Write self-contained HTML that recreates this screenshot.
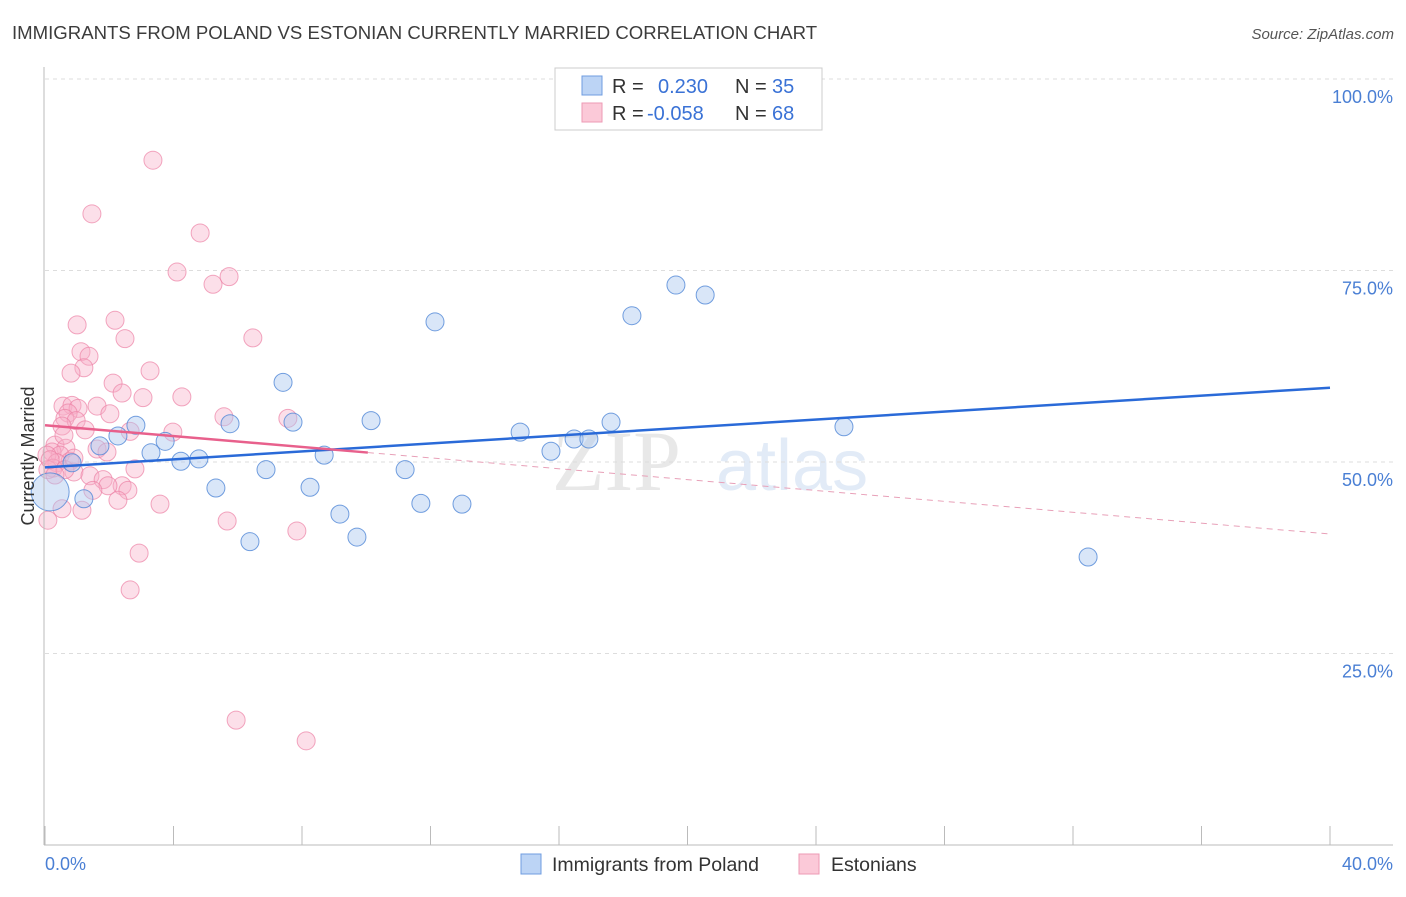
<!DOCTYPE html>
<html><head><meta charset="utf-8"><style>
body{margin:0;background:#fff;font-family:"Liberation Sans",sans-serif}
</style></head><body>
<svg id="chart" width="1406" height="892" xmlns="http://www.w3.org/2000/svg" font-family="Liberation Sans, sans-serif">
<text x="12" y="39" font-size="18.6" fill="#3c3c3c">IMMIGRANTS FROM POLAND VS ESTONIAN CURRENTLY MARRIED CORRELATION CHART</text>
<text x="1394" y="39" font-size="15" fill="#555" text-anchor="end" font-style="italic">Source: ZipAtlas.com</text>
<text x="552" y="490" font-size="86" fill="#e8e8e8" font-family="Liberation Serif, serif">ZIP</text>
<text x="716" y="490" font-size="72" fill="#e2ebf7">atlas</text>
<g id="grid"></g><g id="marks"></g>
<line x1="44" y1="67" x2="44" y2="845" stroke="#bbb"/>
<line x1="44" y1="845" x2="1393" y2="845" stroke="#bbb"/>
<text transform="translate(34,456) rotate(-90)" text-anchor="middle" font-size="18" fill="#333">Currently Married</text>
<text x="45" y="870" font-size="18" fill="#4a7fd4">0.0%</text>
<text x="1393" y="870" font-size="18" fill="#4a7fd4" text-anchor="end">40.0%</text>
<g>
<rect x="555" y="68" width="267" height="62" fill="#fff" stroke="#ccc"/>
<rect x="582" y="76" width="20" height="19" fill="#bcd4f5" stroke="#6f9ce0"/>
<rect x="582" y="103" width="20" height="19" fill="#fbc9d8" stroke="#ee9ab5"/>
<text x="612" y="93" font-size="20" fill="#333">R =</text><text x="658" y="93" font-size="20" fill="#3a72d6">0.230</text>
<text x="735" y="93" font-size="20" fill="#333">N =</text><text x="772" y="93" font-size="20" fill="#3a72d6">35</text>
<text x="612" y="120" font-size="20" fill="#333">R =</text><text x="647" y="120" font-size="20" fill="#3a72d6">-0.058</text>
<text x="735" y="120" font-size="20" fill="#333">N =</text><text x="772" y="120" font-size="20" fill="#3a72d6">68</text>
</g>
<g>
<rect x="521" y="854" width="20" height="20" fill="#bcd4f5" stroke="#6f9ce0"/>
<text x="552" y="871" font-size="19.5" fill="#333">Immigrants from Poland</text>
<rect x="799" y="854" width="20" height="20" fill="#fbc9d8" stroke="#ee9ab5"/>
<text x="831" y="871" font-size="19.5" fill="#333">Estonians</text>
</g>
</svg>
<script>
const yTicks=[100,75,50,25];
const xTickVals=[0,4,8,12,16,20,24,28,32,36,40];
const polandX=[0.16,0.84,1.21,1.71,2.27,2.83,3.30,3.74,4.23,4.79,5.32,5.76,6.38,6.88,7.41,7.72,8.25,8.69,9.18,9.71,10.15,11.21,11.70,12.14,12.98,14.79,15.75,16.47,16.93,17.62,18.27,19.64,20.55,24.87,32.47];
const polandY=[46.1,49.9,45.2,52.1,53.4,54.8,51.2,52.7,50.1,50.4,46.6,55.0,39.6,49.0,60.4,55.2,46.7,50.9,43.2,40.2,55.4,49.0,44.6,68.3,44.5,53.9,51.4,53.0,53.0,55.2,69.1,73.1,71.8,54.6,37.6];
const estX=[3.36,1.46,4.83,4.11,5.23,5.73,1.00,2.18,2.49,6.47,1.12,1.37,1.21,0.81,3.27,2.12,2.40,4.26,3.05,0.56,1.62,0.84,1.03,2.02,0.72,5.57,7.56,0.62,0.97,0.53,2.65,3.98,0.31,1.62,1.93,0.65,0.22,0.47,0.06,0.78,0.37,0.25,0.09,0.90,2.80,1.40,1.81,2.40,2.58,1.96,1.49,2.27,3.58,0.53,1.15,0.09,5.67,7.84,2.93,2.65,5.95,8.13,0.62,0.31,0.59,1.25,0.90,0.16];
const estY=[89.4,82.4,79.9,74.8,73.2,74.2,67.9,68.5,66.1,66.2,64.4,63.8,62.3,61.6,61.9,60.3,59.0,58.5,58.4,57.3,57.3,57.4,57.0,56.3,56.4,55.9,55.7,55.7,55.4,54.7,54.0,53.9,52.2,51.7,51.3,51.8,51.3,50.9,50.9,50.1,49.9,49.2,49.0,48.7,49.1,48.2,47.7,46.9,46.3,46.9,46.3,45.0,44.5,43.9,43.7,42.4,42.3,41.0,38.1,33.3,16.3,13.6,49.0,48.3,53.5,54.2,50.5,50.3];
const polandTrend=[49.3,59.7];
const estTrend=[54.8,40.6];
const estSolidEnd=10.05;
const NS="http://www.w3.org/2000/svg";
const X=v=>45+v/40*1285, Y=v=>845-v/100*766;
function mk(t,a,p){const e=document.createElementNS(NS,t);for(const k in a)e.setAttribute(k,a[k]);p.appendChild(e);return e;}
const grid=document.getElementById('grid'), marks=document.getElementById('marks');
yTicks.forEach(v=>{
 const l=mk('line',{x1:45,x2:1393,y1:Y(v),y2:Y(v),stroke:'#ddd','stroke-dasharray':'4,4'},grid);
 
 
 const t=mk('text',{x:1393,y:Y(v)+24,'font-size':18,fill:'#4a7fd4','text-anchor':'end'},grid);t.textContent=v.toFixed(1)+'%';
 
 
});
xTickVals.forEach(v=>{
 const l=mk('line',{x1:X(v),x2:X(v),y1:826,y2:845,stroke:'#bbb'},grid);
 
 
});
estX.forEach((x,i)=>{
 const c=mk('circle',{cx:X(x),cy:Y(estY[i]),r:9,fill:'rgba(248,175,199,0.4)',stroke:'rgba(236,130,165,0.7)','stroke-width':1},marks);
 
 
});
polandX.forEach((x,i)=>{
 const c=mk('circle',{cx:X(x),cy:Y(polandY[i]),r:i==0?19:9,fill:'rgba(170,200,240,0.45)',stroke:'rgba(80,135,215,0.8)','stroke-width':1},marks);
 
 
});
const ey=x=>estTrend[0]+(estTrend[1]-estTrend[0])*x/40;
let l1=mk('line',{x1:X(0),y1:Y(polandTrend[0]),x2:X(40),y2:Y(polandTrend[1]),stroke:'#2a6ad8','stroke-width':2.5},marks);


let l2=mk('line',{x1:X(0),y1:Y(ey(0)),x2:X(estSolidEnd),y2:Y(ey(estSolidEnd)),stroke:'#e8608c','stroke-width':2.5},marks);


let l3=mk('line',{x1:X(estSolidEnd),y1:Y(ey(estSolidEnd)),x2:X(40),y2:Y(ey(40)),stroke:'#e8a0b8','stroke-width':1,'stroke-dasharray':'6,5'},marks);


</script>
</body></html>
